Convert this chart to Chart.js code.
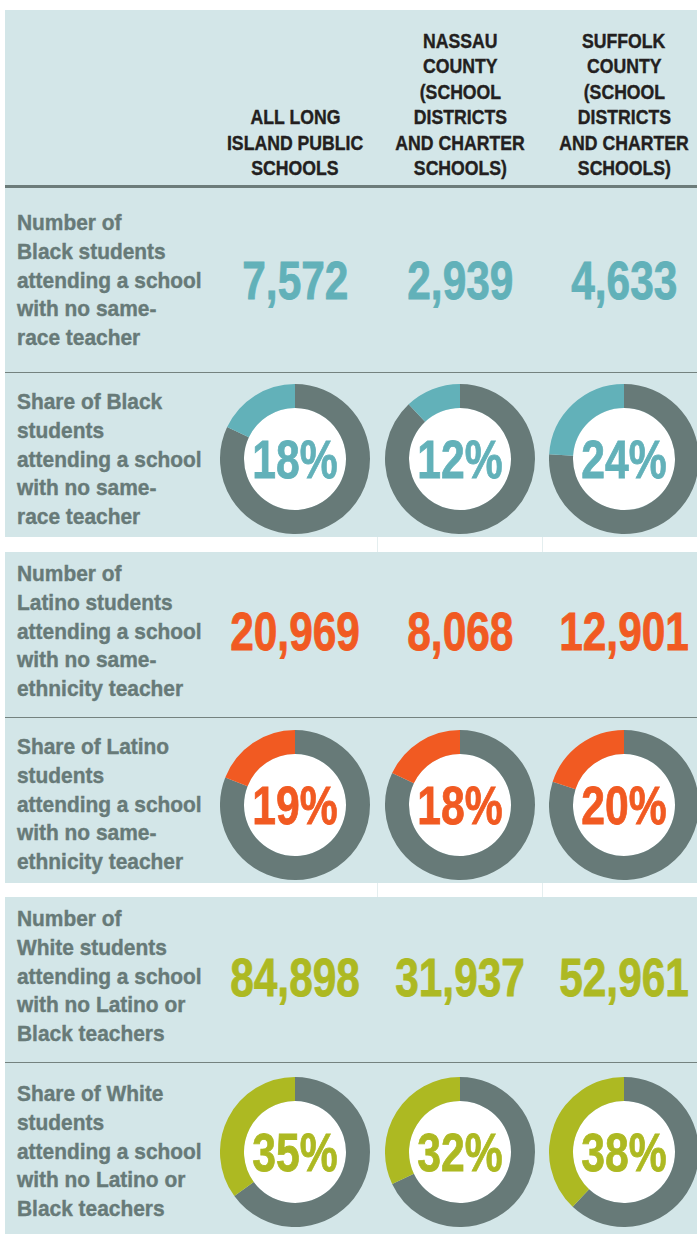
<!DOCTYPE html>
<html>
<head>
<meta charset="utf-8">
<script src="https://cdn.jsdelivr.net/npm/chart.js@4/dist/chart.umd.min.js"></script>
<style>
  html, body { margin: 0; padding: 0; background: #ffffff; }
  body { width: 697px; height: 1234px; position: relative; overflow: hidden;
         font-family: "Liberation Sans", Arial, sans-serif; font-weight: bold; }
  .panel { position: absolute; left: 5px; width: 692px; background: #d3e6e8; }
  .hline { position: absolute; left: 5px; width: 692px; background: #74827f; }
  .vline { position: absolute; width: 1px; background: #e4eeef; }
  .txt { position: absolute; white-space: nowrap; }
  .ln { display: inline-block; }
  .hdr { color: #231f20; font-size: 21px; line-height: 25.5px; text-align: center; width: 170px;
         -webkit-text-stroke: 0.4px #231f20; }
  .hdr .ln { transform: scaleX(0.84); transform-origin: center; }
  .lbl { color: #677a78; font-size: 22px; line-height: 28.75px; left: 17px;
         -webkit-text-stroke: 0.4px #677a78; }
  .lbl .ln { transform: scaleX(0.95); transform-origin: left center; }
  .val { font-size: 53px; line-height: 60px; text-align: center; width: 200px; }
  .val .ln { transform: scaleX(0.80); transform-origin: center; }
  .pct { font-size: 54px; line-height: 60px; text-align: center; width: 140px; }
  .pct .ln { transform: scaleX(0.79); transform-origin: center; }
  canvas { position: absolute; }
</style>
</head>
<body>
<script>
// ---- data ----
const columnHeaders = [
  ["ALL LONG", "ISLAND PUBLIC", "SCHOOLS"],
  ["NASSAU", "COUNTY", "(SCHOOL", "DISTRICTS", "AND CHARTER", "SCHOOLS)"],
  ["SUFFOLK", "COUNTY", "(SCHOOL", "DISTRICTS", "AND CHARTER", "SCHOOLS)"]
];
const blackLabelCount = ["Number of", "Black students", "attending a school", "with no same-", "race teacher"];
const blackLabelShare = ["Share of Black", "students", "attending a school", "with no same-", "race teacher"];
const latinoLabelCount = ["Number of", "Latino students", "attending a school", "with no same-", "ethnicity teacher"];
const latinoLabelShare = ["Share of Latino", "students", "attending a school", "with no same-", "ethnicity teacher"];
const whiteLabelCount = ["Number of", "White students", "attending a school", "with no Latino or", "Black teachers"];
const whiteLabelShare = ["Share of White", "students", "attending a school", "with no Latino or", "Black teachers"];

const blackCounts = [7572, 2939, 4633];
const blackShares = [18, 12, 24];
const latinoCounts = [20969, 8068, 12901];
const latinoShares = [19, 18, 20];
const whiteCounts = [84898, 31937, 52961];
const whiteShares = [35, 32, 38];

// ---- styling / layout ----
const GRAY = "#677a78";
const TEAL = "#62b1b9";
const ORANGE = "#f15a22";
const OLIVE = "#adb922";
const colX = [295, 460, 624];

function el(cls, css, lines) {
  const d = document.createElement("div");
  d.className = cls;
  Object.assign(d.style, css);
  if (lines !== undefined) d.innerHTML = lines.map(l => '<span class="ln">' + l + '</span>').join("<br>");
  document.body.appendChild(d);
  return d;
}

// panels
el("panel", { top: "10px", height: "527px" });
el("panel", { top: "552px", height: "331px" });
el("panel", { top: "897px", height: "337px" });
// white gap separators
[[537, 15], [883, 14]].forEach(([y, h]) => {
  [377, 542].forEach(x => el("vline", { left: x + "px", top: y + "px", height: h + "px" }));
});
// horizontal rules
el("hline", { top: "185px", height: "3px", background: "#6c7c7a" });
[372, 717, 1062].forEach(y => el("hline", { top: y + "px", height: "1px" }));

// headers
columnHeaders.forEach((lines, i) => {
  const lh = 25.5;
  const top = 168 + lh / 2 - lines.length * lh;
  el("txt hdr", { left: (colX[i] - 85) + "px", top: top + "px" }, lines);
});

function label(lines, cy) {
  const lh = 28.75;
  el("txt lbl", { top: (cy - lines.length * lh / 2) + "px" }, lines);
}
function values(arr, cy, color) {
  arr.forEach((v, i) => {
    el("txt val", { left: (colX[i] - 100) + "px", top: (cy - 30) + "px", color: color,
                    webkitTextStroke: "0.8px " + color },
       [v.toLocaleString("en-US")]);
  });
}

const innerWhite = {
  id: "innerWhite",
  beforeDatasetsDraw(chart) {
    const arc = chart.getDatasetMeta(0).data[0];
    if (!arc) return;
    const ctx = chart.ctx;
    ctx.save();
    ctx.beginPath();
    ctx.arc(arc.x, arc.y, arc.innerRadius, 0, Math.PI * 2);
    ctx.fillStyle = "#ffffff";
    ctx.fill();
    ctx.restore();
  }
};

function donuts(shares, cy, color) {
  const size = 150;
  shares.forEach((p, i) => {
    const c = document.createElement("canvas");
    c.width = size; c.height = size;
    c.style.left = (colX[i] - size / 2) + "px";
    c.style.top = (cy - size / 2) + "px";
    c.style.width = size + "px"; c.style.height = size + "px";
    document.body.appendChild(c);
    new Chart(c, {
      type: "doughnut",
      data: {
        labels: ["Other", "Share"],
        datasets: [{ data: [100 - p, p], backgroundColor: [GRAY, color], borderWidth: 0 }]
      },
      options: {
        responsive: false, animation: false, cutout: "68%",
        layout: { padding: 0 },
        plugins: { legend: { display: false }, tooltip: { enabled: false } }
      },
      plugins: [innerWhite]
    });
    el("txt pct", { left: (colX[i] - 70) + "px", top: (cy - 30) + "px", color: color,
                    webkitTextStroke: "0.8px " + color }, [p + "%"]);
  });
}

// rows
label(blackLabelCount, 281);   values(blackCounts, 281, TEAL);
label(blackLabelShare, 460);   donuts(blackShares, 459, TEAL);
label(latinoLabelCount, 632);  values(latinoCounts, 632, ORANGE);
label(latinoLabelShare, 805);  donuts(latinoShares, 805, ORANGE);
label(whiteLabelCount, 977);   values(whiteCounts, 978, OLIVE);
label(whiteLabelShare, 1152);  donuts(whiteShares, 1152, OLIVE);
</script>
</body>
</html>
